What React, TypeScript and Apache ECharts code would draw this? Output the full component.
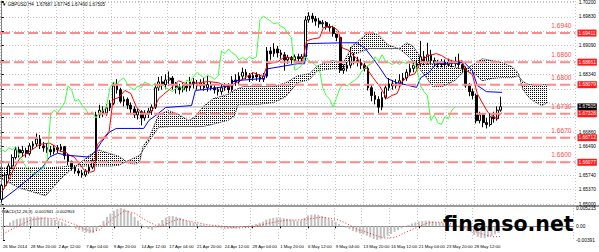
import { useEffect, useRef } from 'react';
import * as echarts from 'echarts';

// ---------- DATA ----------
const timeLabels = ['26 Mar 2014', '28 Mar 20:00', '2 Apr 12:00', '7 Apr 04:00', '9 Apr 20:00', '14 Apr 12:00', '17 Apr 04:00', '21 Apr 20:00', '24 Apr 12:00', '29 Apr 04:00', '1 May 20:00', '6 May 12:00', '9 May 04:00', '13 May 20:00', '16 May 12:00', '21 May 04:00', '23 May 20:00', '28 May 12:00'];

const priceTickLabels = ['1.65000', '1.65370', '1.65740', '1.66120', '1.66490', '1.66860', '1.67230', '1.67600', '1.67970', '1.68340', '1.68720', '1.69090', '1.69460', '1.69830', '1.70200'];

// [open, close, low, high]
const candles: number[][] = [
  [1.6512, 1.6548, 1.6505, 1.6552], [1.6548, 1.6575, 1.6540, 1.6582], [1.6575, 1.6598, 1.6566, 1.6605], [1.6598, 1.6620, 1.6590, 1.6628],
  [1.6620, 1.6640, 1.6615, 1.6648], [1.6640, 1.6632, 1.6620, 1.6648], [1.6632, 1.6638, 1.6622, 1.6650], [1.6638, 1.6630, 1.6620, 1.6645],
  [1.6630, 1.6650, 1.6625, 1.6657], [1.6650, 1.6655, 1.6640, 1.6662], [1.6655, 1.6668, 1.6648, 1.6682], [1.6668, 1.6650, 1.6642, 1.6678],
  [1.6650, 1.6645, 1.6635, 1.6660], [1.6645, 1.6640, 1.6632, 1.6655], [1.6640, 1.6635, 1.6625, 1.6650], [1.6635, 1.6645, 1.6628, 1.6652],
  [1.6645, 1.6640, 1.6632, 1.6652], [1.6640, 1.6648, 1.6635, 1.6655], [1.6648, 1.6625, 1.6615, 1.6650], [1.6625, 1.6610, 1.6600, 1.6630],
  [1.6610, 1.6595, 1.6586, 1.6612], [1.6595, 1.6585, 1.6578, 1.6600], [1.6585, 1.6580, 1.6572, 1.6592], [1.6580, 1.6575, 1.6568, 1.6588],
  [1.6575, 1.6585, 1.6570, 1.6590], [1.6585, 1.6595, 1.6578, 1.6602], [1.6595, 1.6612, 1.6590, 1.6616], [1.6612, 1.6730, 1.6608, 1.6738],
  [1.6730, 1.6742, 1.6722, 1.6756], [1.6742, 1.6735, 1.6725, 1.6752], [1.6735, 1.6748, 1.6728, 1.6758], [1.6748, 1.6760, 1.6740, 1.6768],
  [1.6760, 1.6805, 1.6755, 1.6815], [1.6805, 1.6795, 1.6785, 1.6822], [1.6795, 1.6765, 1.6760, 1.6800], [1.6765, 1.6770, 1.6752, 1.6778],
  [1.6770, 1.6755, 1.6745, 1.6775], [1.6755, 1.6745, 1.6735, 1.6762], [1.6745, 1.6730, 1.6722, 1.6752], [1.6730, 1.6738, 1.6718, 1.6745],
  [1.6738, 1.6722, 1.6703, 1.6742], [1.6722, 1.6735, 1.6715, 1.6742], [1.6735, 1.6740, 1.6722, 1.6748], [1.6740, 1.6750, 1.6730, 1.6757],
  [1.6750, 1.6800, 1.6745, 1.6808], [1.6800, 1.6815, 1.6792, 1.6828], [1.6815, 1.6808, 1.6795, 1.6830], [1.6808, 1.6820, 1.6798, 1.6835],
  [1.6820, 1.6825, 1.6805, 1.6842], [1.6825, 1.6810, 1.6795, 1.6830], [1.6810, 1.6800, 1.6785, 1.6815], [1.6800, 1.6795, 1.6783, 1.6810],
  [1.6795, 1.6805, 1.6788, 1.6812], [1.6805, 1.6800, 1.6790, 1.6815], [1.6800, 1.6815, 1.6792, 1.6828], [1.6815, 1.6810, 1.6798, 1.6825],
  [1.6810, 1.6805, 1.6795, 1.6820], [1.6805, 1.6812, 1.6795, 1.6822], [1.6812, 1.6800, 1.6792, 1.6825], [1.6800, 1.6808, 1.6790, 1.6830],
  [1.6808, 1.6800, 1.6793, 1.6815], [1.6800, 1.6795, 1.6785, 1.6808], [1.6795, 1.6790, 1.6780, 1.6802], [1.6790, 1.6800, 1.6782, 1.6808],
  [1.6800, 1.6805, 1.6792, 1.6812], [1.6805, 1.6795, 1.6786, 1.6812], [1.6795, 1.6820, 1.6790, 1.6830], [1.6820, 1.6815, 1.6805, 1.6835],
  [1.6815, 1.6830, 1.6808, 1.6840], [1.6830, 1.6840, 1.6822, 1.6852], [1.6840, 1.6832, 1.6822, 1.6848], [1.6832, 1.6825, 1.6815, 1.6838],
  [1.6825, 1.6832, 1.6818, 1.6840], [1.6832, 1.6828, 1.6818, 1.6840], [1.6828, 1.6822, 1.6815, 1.6835], [1.6822, 1.6830, 1.6815, 1.6838],
  [1.6830, 1.6895, 1.6825, 1.6905], [1.6895, 1.6888, 1.6872, 1.6905], [1.6888, 1.6900, 1.6880, 1.6915], [1.6900, 1.6890, 1.6878, 1.6908],
  [1.6890, 1.6885, 1.6875, 1.6898], [1.6885, 1.6872, 1.6844, 1.6892], [1.6872, 1.6878, 1.6862, 1.6885], [1.6878, 1.6872, 1.6862, 1.6882],
  [1.6872, 1.6880, 1.6865, 1.6886], [1.6880, 1.6875, 1.6865, 1.6888], [1.6875, 1.6880, 1.6866, 1.6887], [1.6880, 1.6975, 1.6872, 1.6985],
  [1.6975, 1.6985, 1.6968, 1.6995], [1.6985, 1.6978, 1.6968, 1.6993], [1.6978, 1.6972, 1.6960, 1.6985], [1.6972, 1.6965, 1.6955, 1.6980],
  [1.6965, 1.6968, 1.6955, 1.6975], [1.6968, 1.6958, 1.6950, 1.6972], [1.6958, 1.6955, 1.6945, 1.6965], [1.6955, 1.6940, 1.6932, 1.6960],
  [1.6940, 1.6930, 1.6920, 1.6945], [1.6930, 1.6845, 1.6838, 1.6935], [1.6845, 1.6850, 1.6836, 1.6860], [1.6850, 1.6858, 1.6842, 1.6866],
  [1.6858, 1.6880, 1.6850, 1.6905], [1.6880, 1.6870, 1.6860, 1.6890], [1.6870, 1.6865, 1.6855, 1.6880], [1.6865, 1.6858, 1.6848, 1.6875],
  [1.6858, 1.6850, 1.6842, 1.6868], [1.6850, 1.6800, 1.6793, 1.6855], [1.6800, 1.6780, 1.6765, 1.6808], [1.6780, 1.6770, 1.6757, 1.6790],
  [1.6770, 1.6750, 1.6731, 1.6778], [1.6750, 1.6775, 1.6742, 1.6790], [1.6775, 1.6800, 1.6770, 1.6810], [1.6800, 1.6810, 1.6792, 1.6825],
  [1.6810, 1.6805, 1.6795, 1.6820], [1.6805, 1.6812, 1.6798, 1.6822], [1.6812, 1.6818, 1.6800, 1.6835], [1.6818, 1.6825, 1.6808, 1.6838],
  [1.6825, 1.6840, 1.6818, 1.6848], [1.6840, 1.6850, 1.6830, 1.6862], [1.6850, 1.6858, 1.6840, 1.6868], [1.6858, 1.6862, 1.6848, 1.6872],
  [1.6862, 1.6880, 1.6855, 1.6921], [1.6880, 1.6868, 1.6858, 1.6895], [1.6868, 1.6885, 1.6860, 1.6916], [1.6885, 1.6870, 1.6862, 1.6898],
  [1.6870, 1.6865, 1.6855, 1.6878], [1.6865, 1.6860, 1.6852, 1.6872], [1.6860, 1.6866, 1.6853, 1.6874], [1.6866, 1.6860, 1.6852, 1.6873],
  [1.6860, 1.6866, 1.6854, 1.6875], [1.6866, 1.6862, 1.6853, 1.6872], [1.6862, 1.6868, 1.6855, 1.6880], [1.6868, 1.6860, 1.6852, 1.6888],
  [1.6860, 1.6850, 1.6840, 1.6868], [1.6850, 1.6805, 1.6800, 1.6855], [1.6805, 1.6790, 1.6778, 1.6812], [1.6790, 1.6780, 1.6770, 1.6798],
  [1.6780, 1.6715, 1.6708, 1.6785], [1.6715, 1.6730, 1.6708, 1.6738], [1.6730, 1.6710, 1.6698, 1.6735], [1.6710, 1.6705, 1.6695, 1.6722],
  [1.6705, 1.6725, 1.6700, 1.6735], [1.6725, 1.6720, 1.6710, 1.6738], [1.6720, 1.6742, 1.6715, 1.6752], [1.6742, 1.6751, 1.6738, 1.6777],
];

// Tenkan-sen (red) [slot, price]
const tenkan: number[][] = [
  [0, 1.6531], [1.8, 1.6557], [3.5, 1.6593], [5.2, 1.6618], [8, 1.6636], [10.9, 1.6654], [13.7, 1.6657], [15.4, 1.6649], [16.6, 1.6636],
  [18.3, 1.6634], [19.4, 1.6626], [20.8, 1.6621], [22.3, 1.6603], [23.7, 1.6587], [25.4, 1.6582], [26.5, 1.6585], [27.4, 1.6654],
  [29.4, 1.6672], [30.8, 1.6688], [31.9, 1.6770], [33.6, 1.6775], [35.3, 1.6793], [37, 1.6785], [38.5, 1.6752], [39.9, 1.6736],
  [42.2, 1.6731], [43.9, 1.6752], [45, 1.6772], [46.4, 1.6783], [48.4, 1.6798], [50.7, 1.6818], [53.5, 1.6808], [56.4, 1.6813],
  [59.2, 1.6816], [62.1, 1.6813], [64.9, 1.6801], [67.2, 1.6813], [69.5, 1.6824], [72, 1.6839], [74.9, 1.6829], [76.3, 1.6862],
  [79.1, 1.6867], [81.1, 1.6880], [83.4, 1.6875], [84.8, 1.6867], [86.2, 1.6867], [87.4, 1.6921], [89.1, 1.6926], [91.1, 1.6929],
  [92.2, 1.6955], [94.8, 1.6958], [96.5, 1.6947], [97.6, 1.6903], [99.6, 1.6896], [100.8, 1.6883], [102.5, 1.6870], [104.7, 1.6849],
  [106.4, 1.6826], [108.4, 1.6803], [110.4, 1.6772], [111.8, 1.6780], [113.3, 1.6785], [114.7, 1.6816], [116.7, 1.6831], [118.4, 1.6836],
  [120.4, 1.6872], [122.4, 1.6883], [124.6, 1.6888], [126.1, 1.6883], [127.5, 1.6875], [130.3, 1.6865], [131.8, 1.6870], [133.2, 1.6844],
  [134.9, 1.6834], [136.3, 1.6785], [138, 1.6757], [139.4, 1.6736], [141.7, 1.6721], [143.4, 1.6736],
];

// Kijun-sen (blue) [slot, price]
const kijun: number[][] = [
  [0, 1.6510], [3.8, 1.6536], [8, 1.6567], [11.7, 1.6595], [13.7, 1.6621], [16, 1.6631], [18.6, 1.6626], [25.1, 1.6621], [27.1, 1.6639],
  [28.5, 1.6659], [30.8, 1.6685], [32.8, 1.6695], [40.7, 1.6695], [42.2, 1.6716], [44.2, 1.6729], [47, 1.6749], [54.4, 1.6754],
  [55.5, 1.6793], [60.6, 1.6798], [65.5, 1.6806], [66.6, 1.6818], [75.2, 1.6824], [76.3, 1.6849], [84.8, 1.6862], [86.8, 1.6862],
  [87.7, 1.6914], [97.6, 1.6916], [101.9, 1.6916], [104.2, 1.6901], [106.2, 1.6878], [108.1, 1.6855], [110.4, 1.6824], [113.3, 1.6813],
  [118.9, 1.6801], [120.1, 1.6826], [122.4, 1.6839], [124.6, 1.6862], [132.6, 1.6865], [134.9, 1.6844], [136.3, 1.6806], [138.9, 1.6790],
  [143.4, 1.6788],
];

// Kumo (cloud) : slots and Senkou spans A / B
const cloudX = [-0.5, 5.2, 12.6, 16.6, 19.4, 22.3, 25.1, 27.9, 30.8, 33.6, 36.5, 38.5, 39.6, 40.5, 42.2, 45, 47.9, 50.7, 53.5, 55.2,
  57.8, 60.6, 64.9, 66.6, 67.8, 69.2, 73.4, 78, 81.4, 84.8, 88.2, 90.5, 94.8, 97.9, 100.5, 102.2, 105.3, 107.9, 110.7, 113.8,
  116.1, 117.8, 121.5, 123.5, 126.3, 129.8, 133.2, 135.5, 137.7, 140.6, 143.4, 146.3, 148, 149.4, 151.1, 152.5, 154.8, 156.5];
const spanA = [1.6567, 1.6541, 1.6521, 1.6562, 1.6585, 1.6605, 1.6626, 1.6639, 1.6631, 1.6623, 1.6605, 1.6603, 1.6610, 1.6649, 1.6670,
  1.6731, 1.6741, 1.6731, 1.6716, 1.6723, 1.6752, 1.6772, 1.6783, 1.6793, 1.6798, 1.6803, 1.6803, 1.6803, 1.6813, 1.6831, 1.6836,
  1.6857, 1.6870, 1.6865, 1.6908, 1.6921, 1.6944, 1.6937, 1.6911, 1.6901, 1.6885, 1.6870, 1.6829, 1.6803, 1.6803, 1.6818, 1.6849,
  1.6862, 1.6875, 1.6870, 1.6865, 1.6854, 1.6839, 1.6795, 1.6775, 1.6765, 1.6754, 1.6762];
const spanB = [1.6593, 1.6593, 1.6593, 1.6595, 1.6598, 1.6598, 1.6598, 1.6598, 1.6598, 1.6600, 1.6613, 1.6621, 1.6626, 1.6639, 1.6662,
  1.6698, 1.6700, 1.6700, 1.6700, 1.6700, 1.6700, 1.6706, 1.6716, 1.6726, 1.6757, 1.6757, 1.6757, 1.6762, 1.6777, 1.6813, 1.6821,
  1.6844, 1.6849, 1.6849, 1.6885, 1.6890, 1.6901, 1.6901, 1.6901, 1.6901, 1.6916, 1.6908, 1.6862, 1.6862, 1.6862, 1.6854, 1.6844,
  1.6836, 1.6818, 1.6824, 1.6826, 1.6826, 1.6831, 1.6816, 1.6808, 1.6808, 1.6808, 1.6808];

// MACD main (histogram), one value per candle
const macdMain = [
  -0.0008, 0.0003, 0.0011, 0.0017, 0.0021, 0.0023, 0.0025, 0.0026, 0.0027, 0.0027,
  0.0028, 0.0026, 0.0024, 0.0022, 0.0020, 0.0018, 0.0016, 0.0012, 0.0008, 0.0003,
  -0.0002, -0.0007, -0.0011, -0.0015, -0.0018, -0.0020, -0.0019, -0.0012, 0.0003, 0.0015,
  0.0027, 0.0036, 0.0044, 0.0049, 0.0052, 0.0050, 0.0045, 0.0038, 0.0027, 0.0016,
  0.0005, -0.0003, -0.0008, -0.0010, -0.0004, 0.0008, 0.0018, 0.0025, 0.0029, 0.0029,
  0.0027, 0.0024, 0.0020, 0.0016, 0.0013, 0.0010, 0.0007, 0.0005, 0.0004, 0.0002,
  0.0001, -0.0002, -0.0004, -0.0006, -0.0007, -0.0008, -0.0007, -0.0006, -0.0004, -0.0002,
  0.0000, 0.0002, 0.0004, 0.0007, 0.0010, 0.0013, 0.0019, 0.0022, 0.0024, 0.0025,
  0.0025, 0.0023, 0.0021, 0.0019, 0.0017, 0.0016, 0.0017, 0.0024, 0.0031, 0.0033,
  0.0034, 0.0032, 0.0029, 0.0026, 0.0022, 0.0018, 0.0013, 0.0006, 0.0002, -0.0004,
  -0.0008, -0.0013, -0.0017, -0.0020, -0.0023, -0.0027, -0.0031, -0.0036, -0.0039, -0.0037,
  -0.0032, -0.0027, -0.0022, -0.0016, -0.0011, -0.0006, -0.0001, 0.0004, 0.0008, 0.0011,
  0.0014, 0.0015, 0.0016, 0.0016, 0.0014, 0.0012, 0.0011, 0.0009, 0.0007, 0.0005,
  0.0002, 0.0000, -0.0005, -0.0009, -0.0013, -0.0017, -0.0025, -0.0030, -0.0033, -0.0034,
  -0.0031, -0.0027, -0.0023, -0.0019,
];

// MACD signal (red dotted) [slot, value]
const macdSignal: number[][] = [
  [0, -0.0022], [3.8, -0.0002], [8, 0.0018], [12.3, 0.0024], [16.6, 0.0020], [20.8, 0.0005], [23.7, -0.0008], [25.7, -0.0015],
  [27.9, -0.0010], [31.4, 0.0020], [35.1, 0.0044], [37.9, 0.0038], [41.6, 0.0015], [45, -0.0002], [47.9, 0.0010], [50.7, 0.0021],
  [55, 0.0012], [59.2, 0.0004], [63.5, 0.0000], [67.8, -0.0005], [72, -0.0002], [76.3, 0.0008], [82, 0.0018], [84.8, 0.0018],
  [89.1, 0.0022], [91.9, 0.0026], [96.2, 0.0020], [99, 0.0009], [102.5, -0.0010], [105.3, -0.0018], [108.1, -0.0028], [110.4, -0.0034],
  [113.3, -0.0031], [116.1, -0.0018], [119.5, -0.0003], [122.4, 0.0009], [124.6, 0.0012], [127.5, 0.0011], [130.3, 0.0005],
  [133.2, -0.0004], [136, -0.0014], [138.9, -0.0024], [141.7, -0.0030], [143.4, -0.0029],
];

const levelPrices = [1.69411, 1.68661, 1.68079, 1.67328, 1.66712, 1.66077];
const levelNames = ['1.6940', '1.6860', '1.6800', '1.6730', '1.6670', '1.6600'];
const levelBoxTexts = ['1.69411', '1.68661', '1.68079', '1.67328', '1.66712', '1.66077'];
const bidPrice = 1.67505;
const bidText = '1.67505';

const macdAxisValues = [0.005215, 0, -0.00391];
const macdAxisLabels = ['0.005215', '0.00', '-0.00391'];

const headerText = '\u25BC GBPUSD,H4  1.67687 1.67745 1.67490 1.67505';
const macdText = 'MACD(12,26,9) -0.001941 -0.002903';
const watermark = 'finanso.net';

// ---------- LAYOUT CONSTANTS ----------
const SLOT_COUNT = 165;
const X_MIN = -0.5;
const X_MAX = SLOT_COUNT - 0.5;
const CHIKOU_SHIFT = 13;
const PRICE_MIN = 1.65;
const PRICE_MAX = 1.70239;
const PRICE_STEP = 0.0037143;
const MAIN_H = 204;
const FONT = 'Liberation Sans';

export default function App() {
  const ref = useRef<HTMLDivElement>(null);

  useEffect(() => {
    const el = ref.current;
    if (!el) return;
    const chart = echarts.init(el, undefined, { renderer: 'svg' });

    const canvas = document.createElement('canvas');
    canvas.width = 2;
    canvas.height = 2;
    const ctx = canvas.getContext('2d');
    if (ctx) {
      ctx.fillStyle = '#000000';
      ctx.fillRect(0, 0, 1, 1);
    }
    const dotPattern: any = { image: canvas, repeat: 'repeat', imageWidth: 2, imageHeight: 2 };

    const slotNames = Array.from({ length: SLOT_COUNT }, (_, i) => String(i));
    const isLabelSlot = (idx: number) => idx % 8 === 0 && idx / 8 < timeLabels.length;
    const gridLine = { color: '#c4c4c4', type: [1, 2], width: 1 };
    const pxPerPrice = MAIN_H / (PRICE_MAX - PRICE_MIN);
    const boxPrices = [...levelPrices, bidPrice];

    const levelSeries = levelPrices.map((p, i) => ({
      name: 'Level ' + levelNames[i], type: 'line', xAxisIndex: 2, yAxisIndex: 0, silent: true,
      symbol: 'circle', symbolSize: 0, showSymbol: true, clip: false, z: 5,
      data: [
        [X_MIN, p],
        {
          value: [X_MAX - 0.05, p],
          label: {
            show: true, position: 'insideBottomRight', distance: 4, formatter: levelNames[i],
            color: '#ff4a4a', fontSize: 6.6, fontFamily: FONT,
          },
        },
      ],
      lineStyle: { color: '#ff8a8a', width: 2, type: [10, 4] },
      endLabel: {
        show: true, formatter: levelBoxTexts[i], color: '#ffffff', backgroundColor: '#ff1a1a',
        fontSize: 4.8, fontFamily: FONT, distance: 2, padding: [1, 1, 1, 1],
      },
    }));

    const option: any = {
      animation: false,
      backgroundColor: '#ffffff',
      textStyle: { fontFamily: FONT },
      grid: [
        { left: 0, top: 0, width: 579, height: MAIN_H },
        { left: 0, top: 208, width: 579, height: 32 },
      ],
      xAxis: [
        {
          type: 'category', gridIndex: 0, data: slotNames, boundaryGap: true,
          axisLine: { show: false }, axisTick: { show: false }, axisLabel: { show: false },
          splitLine: { show: true, interval: (i: number) => isLabelSlot(i), lineStyle: gridLine },
        },
        {
          type: 'category', gridIndex: 1, data: slotNames, boundaryGap: true,
          axisLine: { show: true, lineStyle: { color: '#808080', width: 1 } },
          axisTick: { show: true, alignWithLabel: true, interval: (i: number) => isLabelSlot(i), length: 2, lineStyle: { color: '#000' } },
          axisLabel: {
            show: true, interval: (i: number) => isLabelSlot(i),
            formatter: (_v: string, i: number) => timeLabels[i / 8] || '',
            align: 'left', fontSize: 4.3, color: '#000', margin: 4, fontFamily: FONT,
          },
          splitLine: { show: true, interval: (i: number) => isLabelSlot(i), lineStyle: gridLine },
        },
        { type: 'value', gridIndex: 0, min: X_MIN, max: X_MAX, show: false },
        { type: 'value', gridIndex: 1, min: X_MIN, max: X_MAX, show: false },
      ],
      yAxis: [
        {
          type: 'value', gridIndex: 0, position: 'right', min: PRICE_MIN, max: PRICE_MAX, interval: PRICE_STEP,
          axisLine: { show: true, lineStyle: { color: '#808080', width: 1 } },
          axisTick: { show: true, length: 2, lineStyle: { color: '#000' } },
          axisLabel: {
            fontSize: 4.8, color: '#000', margin: 3, fontFamily: FONT,
            formatter: (v: number) => {
              const k = Math.round((v - PRICE_MIN) / PRICE_STEP);
              if (k < 0 || k >= priceTickLabels.length) return '';
              if (Math.abs(v - (PRICE_MIN + k * PRICE_STEP)) > 1e-5) return '';
              // a price box drawn on the scale hides the grid label beneath it
              if (boxPrices.some((b) => Math.abs(b - v) * pxPerPrice < 5.5)) return '';
              return priceTickLabels[k];
            },
          },
          splitLine: { show: true, lineStyle: gridLine },
        },
        {
          type: 'value', gridIndex: 1, position: 'right', min: -0.00391, max: 0.005215,
          axisLine: { show: true, lineStyle: { color: '#808080', width: 1 } },
          axisTick: { show: true, length: 2, customValues: macdAxisValues, lineStyle: { color: '#000' } },
          axisLabel: {
            fontSize: 4.8, color: '#000', margin: 3, fontFamily: FONT, customValues: macdAxisValues,
            formatter: (v: number) => {
              const idx = macdAxisValues.findIndex((m) => Math.abs(m - v) < 1e-7);
              return idx >= 0 ? macdAxisLabels[idx] : '';
            },
          },
          splitLine: { show: false },
        },
      ],
      series: [
        {
          name: 'Kumo', type: 'custom', xAxisIndex: 2, yAxisIndex: 0, silent: true, clip: true,
          data: [[cloudX[0], spanA[0], spanB[0]]],
          encode: { x: 0, y: [1, 2] },
          renderItem: (_params: any, api: any) => {
            const pts: number[][] = [];
            for (let i = 0; i < cloudX.length; i++) pts.push(api.coord([cloudX[i], spanA[i]]));
            for (let i = cloudX.length - 1; i >= 0; i--) pts.push(api.coord([cloudX[i], spanB[i]]));
            return { type: 'polygon', shape: { points: pts }, style: { fill: dotPattern, stroke: null } };
          },
          z: 1,
        },
        {
          name: 'Senkou A', type: 'line', xAxisIndex: 2, yAxisIndex: 0, silent: true, symbol: 'none',
          data: cloudX.map((x, i) => [x, spanA[i]]),
          lineStyle: { color: '#222', width: 1, type: [1, 1] }, z: 2,
        },
        {
          name: 'Senkou B', type: 'line', xAxisIndex: 2, yAxisIndex: 0, silent: true, symbol: 'none',
          data: cloudX.map((x, i) => [x, spanB[i]]),
          lineStyle: { color: '#222', width: 1, type: [1, 1] }, z: 2,
        },
        {
          name: 'Bid', type: 'line', xAxisIndex: 2, yAxisIndex: 0, silent: true, symbol: 'none', clip: false, z: 2,
          data: [[X_MIN, bidPrice], [X_MAX - 0.05, bidPrice]],
          lineStyle: { color: '#a9a9a9', width: 1 },
          endLabel: {
            show: true, formatter: bidText, color: '#ffffff', backgroundColor: '#000000',
            fontSize: 4.8, fontFamily: FONT, distance: 2, padding: [1, 1, 1, 1],
          },
        },
        {
          name: 'GBPUSD,H4', type: 'candlestick', xAxisIndex: 0, yAxisIndex: 0, silent: true,
          data: candles, barWidth: 2.2,
          itemStyle: { color: '#ffffff', color0: '#000000', borderColor: '#000000', borderColor0: '#000000', borderWidth: 1 },
          z: 3,
        },
        {
          name: 'Tenkan-sen', type: 'line', xAxisIndex: 2, yAxisIndex: 0, silent: true, symbol: 'none',
          data: tenkan, lineStyle: { color: '#ff0000', width: 1 }, z: 4,
        },
        {
          name: 'Kijun-sen', type: 'line', xAxisIndex: 2, yAxisIndex: 0, silent: true, symbol: 'none',
          data: kijun, lineStyle: { color: '#0000ff', width: 1 }, z: 4,
        },
        {
          name: 'Chikou Span', type: 'line', xAxisIndex: 2, yAxisIndex: 0, silent: true, symbol: 'none',
          data: candles.map((c, i) => [i - CHIKOU_SHIFT, c[1]]),
          lineStyle: { color: '#3dff3d', width: 1 }, z: 4,
        },
        ...levelSeries,
        {
          name: 'MACD', type: 'bar', xAxisIndex: 1, yAxisIndex: 1, silent: true,
          data: macdMain, barWidth: 2, itemStyle: { color: '#c0c0c0' },
        },
        {
          name: 'Signal', type: 'line', xAxisIndex: 3, yAxisIndex: 1, silent: true, symbol: 'none',
          data: macdSignal, lineStyle: { color: '#ff2020', width: 1, type: [1, 2] }, z: 4,
        },
      ],
      graphic: [
        { type: 'rect', left: 0, top: 205, shape: { width: 599, height: 2 }, style: { fill: '#9a9a9a' }, silent: true },
        { type: 'text', left: 2, top: 2, style: { text: headerText, fontSize: 4.5, fontFamily: FONT, fill: '#000' }, silent: true },
        { type: 'text', left: 2, top: 209, style: { text: macdText, fontSize: 4.4, fontFamily: FONT, fill: '#000' }, silent: true },
        {
          type: 'text', x: 443, y: 224, silent: true, z: 100,
          style: { text: watermark, fontSize: 20.5, fontWeight: 'bold', fontFamily: 'DejaVu Sans', fill: '#000', verticalAlign: 'middle' },
        },
      ],
    };

    chart.setOption(option);
    return () => {
      chart.dispose();
    };
  }, []);

  return <div ref={ref} style={{ position: 'fixed', left: 0, top: 0, width: 599, height: 252 }} />;
}
